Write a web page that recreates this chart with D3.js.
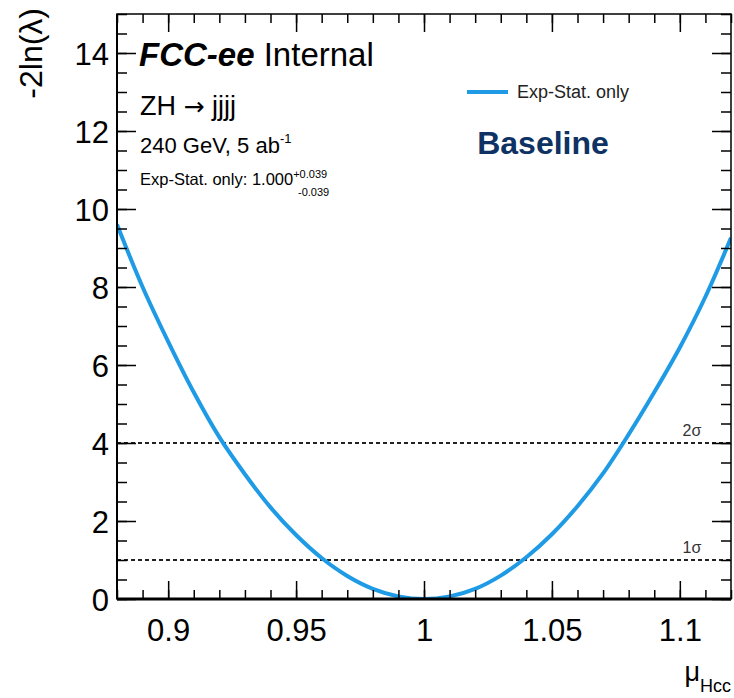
<!DOCTYPE html>
<html>
<head>
<meta charset="utf-8">
<script src="https://cdn.jsdelivr.net/npm/d3@7"></script>
<style>
  body { margin: 0; background: #fff; }
  svg text { font-family: "Liberation Sans", Helvetica, Arial, sans-serif; fill: #000; }
</style>
</head>
<body>
<div id="chart"></div>
<script>
// scan points
var muValues = [0.88, 0.89, 0.90, 0.91, 0.92, 0.93, 0.94, 0.95, 0.96, 0.97, 0.98, 0.99, 1.00,
                1.01, 1.02, 1.03, 1.04, 1.05, 1.06, 1.07, 1.08, 1.09, 1.10, 1.11, 1.12];
var nllValues = [9.6, 8.0, 6.6, 5.3, 4.15, 3.2, 2.35, 1.64, 1.05, 0.59, 0.26, 0.066, 0,
                 0.066, 0.26, 0.6, 1.07, 1.66, 2.38, 3.22, 4.22, 5.3, 6.45, 7.75, 9.26];

var xTicks = [0.9, 0.95, 1, 1.05, 1.1];
var xTickLabels = ["0.9", "0.95", "1", "1.05", "1.1"];
var yTicks = [0, 2, 4, 6, 8, 10, 12, 14];
var sigmaLevels = [1, 4];
var sigmaLabels = ["1σ", "2σ"];

var width = 734, height = 698;
var margin = {left: 117, right: 3, top: 14, bottom: 99};

var svg = d3.select("#chart").append("svg")
    .attr("width", width)
    .attr("height", height);

var x = d3.scaleLinear().domain([0.88, 1.12]).range([margin.left, width - margin.right]);
var y = d3.scaleLinear().domain([0, 15]).range([height - margin.bottom, margin.top]);

var x0 = x.range()[0], x1 = x.range()[1], y0 = y.range()[0], y1 = y.range()[1];

svg.append("clipPath").attr("id", "clip")
    .append("rect").attr("x", x0).attr("y", y1).attr("width", x1 - x0).attr("height", y0 - y1);

// sigma lines
var sigma = svg.append("g");
sigma.selectAll("line").data(sigmaLevels).enter().append("line")
    .attr("x1", x0).attr("x2", x1)
    .attr("y1", function (d) { return y(d); })
    .attr("y2", function (d) { return y(d); })
    .attr("stroke", "#222")
    .attr("stroke-width", 2)
    .attr("stroke-dasharray", "4,3");
sigma.selectAll("text").data(sigmaLevels).enter().append("text")
    .attr("x", 692)
    .attr("y", function (d) { return y(d) - 7; })
    .attr("text-anchor", "middle")
    .style("font-size", "16px")
    .style("fill", "#333")
    .text(function (d, i) { return sigmaLabels[i]; });

// curve
var points = muValues.map(function (m, i) { return [m, nllValues[i]]; });
var line = d3.line()
    .x(function (d) { return x(d[0]); })
    .y(function (d) { return y(d[1]); })
    .curve(d3.curveCatmullRom);
svg.append("path")
    .datum(points)
    .attr("clip-path", "url(#clip)")
    .attr("d", line)
    .attr("fill", "none")
    .attr("stroke", "#1f9be6")
    .attr("stroke-width", 4);

// axes, ROOT style ticks inside on all four sides
var xMinor = d3.range(88, 113).map(function (v) { return v / 100; });
var yMinor = d3.range(0, 31).map(function (v) { return v / 2; });

function styleAxis(g) {
    g.select(".domain").remove();
    g.selectAll(".tick line").attr("stroke", "#000").attr("stroke-width", 1.5);
}

svg.append("g").attr("transform", "translate(0," + y0 + ")")
    .call(d3.axisBottom(x).tickValues(xMinor).tickSize(-9).tickFormat(""))
    .call(styleAxis);
svg.append("g").attr("transform", "translate(0," + y0 + ")")
    .call(d3.axisBottom(x).tickValues(xTicks).tickSize(-18)
        .tickFormat(function (d, i) { return xTickLabels[i]; }))
    .call(styleAxis)
    .selectAll("text").style("font-size", "31px").attr("dy", 0).attr("y", 42);
svg.append("g").attr("transform", "translate(0," + y1 + ")")
    .call(d3.axisTop(x).tickValues(xMinor).tickSize(-9).tickFormat(""))
    .call(styleAxis);
svg.append("g").attr("transform", "translate(0," + y1 + ")")
    .call(d3.axisTop(x).tickValues(xTicks).tickSize(-18).tickFormat(""))
    .call(styleAxis);

svg.append("g").attr("transform", "translate(" + x0 + ",0)")
    .call(d3.axisLeft(y).tickValues(yMinor).tickSize(-10).tickFormat(""))
    .call(styleAxis);
svg.append("g").attr("transform", "translate(" + x0 + ",0)")
    .call(d3.axisLeft(y).tickValues(yTicks).tickSize(-19).tickFormat(d3.format("d")))
    .call(styleAxis)
    .selectAll("text").style("font-size", "31px").attr("x", -8).attr("dy", "0.36em");
svg.append("g").attr("transform", "translate(" + x1 + ",0)")
    .call(d3.axisRight(y).tickValues(yMinor).tickSize(-10).tickFormat(""))
    .call(styleAxis);
svg.append("g").attr("transform", "translate(" + x1 + ",0)")
    .call(d3.axisRight(y).tickValues(yTicks).tickSize(-19).tickFormat(""))
    .call(styleAxis);

// frame
svg.append("rect")
    .attr("x", x0).attr("y", y1).attr("width", x1 - x0).attr("height", y0 - y1)
    .attr("fill", "none").attr("stroke", "#000").attr("stroke-width", 1.5);
svg.append("line").attr("x1", x0).attr("x2", x1).attr("y1", y0).attr("y2", y0)
    .attr("stroke", "#000").attr("stroke-width", 3);
svg.append("line").attr("x1", x0).attr("x2", x0).attr("y1", y1).attr("y2", y0)
    .attr("stroke", "#000").attr("stroke-width", 2);

// axis titles
svg.append("text")
    .attr("transform", "translate(42,8) rotate(-90)")
    .attr("text-anchor", "end")
    .style("font-size", "32px")
    .text("-2ln(λ)");
var xt = svg.append("text")
    .attr("x", 731).attr("y", 681)
    .attr("text-anchor", "end")
    .style("font-size", "27px");
xt.append("tspan").text("μ");
xt.append("tspan").attr("dy", 11).style("font-size", "18px").text("Hcc");

// labels
var t1 = svg.append("text").attr("x", 139).attr("y", 66).style("font-size", "33px");
t1.append("tspan").style("font-weight", "bold").style("font-style", "italic").text("FCC-ee");
t1.append("tspan").text(" Internal");

var t2 = svg.append("text").attr("x", 140).attr("y", 115).style("font-size", "27px");
t2.append("tspan").text("ZH ");
t2.append("tspan").style("font-family", "DejaVu Sans").style("font-size", "25px").text("→");
t2.append("tspan").text(" jjjj");

var t3 = svg.append("text").attr("x", 140).attr("y", 153).style("font-size", "22px");
t3.append("tspan").text("240 GeV, 5 ab");
t3.append("tspan").attr("dy", -10).style("font-size", "13px").text("-1");

var t4 = svg.append("text").attr("x", 140).attr("y", 185).style("font-size", "16.5px");
t4.append("tspan").text("Exp-Stat. only: 1.000");
t4.append("tspan").attr("dy", -7).style("font-size", "11px").text("+0.039");
t4.append("tspan").attr("x", 298).attr("dy", 18).style("font-size", "11px").text("-0.039");

// legend
svg.append("line").attr("x1", 467).attr("x2", 508).attr("y1", 92).attr("y2", 92)
    .attr("stroke", "#1f9be6").attr("stroke-width", 4);
svg.append("text").attr("x", 517).attr("y", 98).style("font-size", "18px").style("fill", "#222")
    .text("Exp-Stat. only");

svg.append("text").attr("x", 543).attr("y", 154)
    .attr("text-anchor", "middle")
    .style("font-size", "32px").style("font-weight", "bold").style("fill", "#0e3263")
    .text("Baseline");
</script>
</body>
</html>
